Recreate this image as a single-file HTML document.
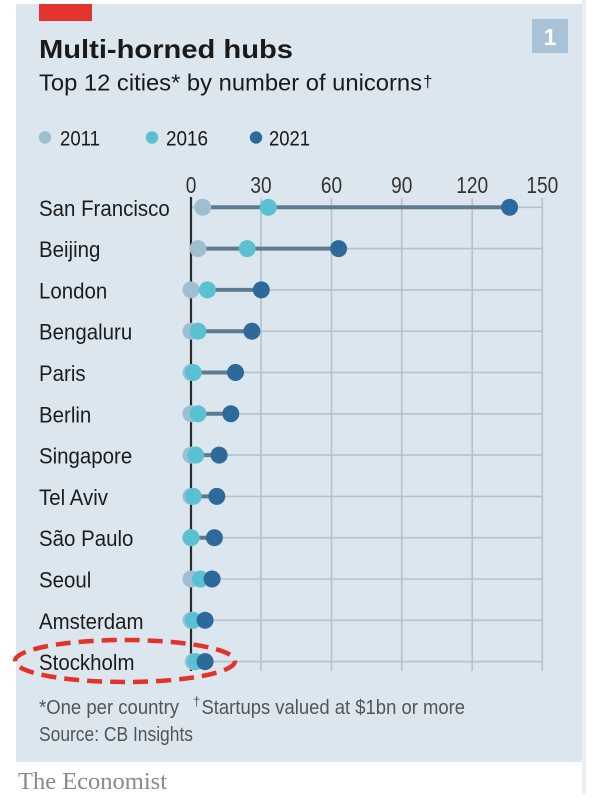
<!DOCTYPE html>
<html>
<head>
<meta charset="utf-8">
<style>
  html, body { margin: 0; padding: 0; background: #ffffff; }
  svg { display: block; }
  text { font-family: "Liberation Sans", sans-serif; }
</style>
</head>
<body>
<svg width="600" height="800" viewBox="0 0 600 800" xmlns="http://www.w3.org/2000/svg">
  <!-- page background -->
  <rect x="0" y="0" width="600" height="800" fill="#ffffff"/>
  <rect x="582" y="0" width="4" height="795" fill="#efefef"/>
  <!-- panel -->
  <rect x="16" y="4" width="566" height="758" fill="#dbe6ee"/>
  <!-- red bar -->
  <rect x="39" y="4" width="53" height="17" fill="#e3352d"/>
  <!-- number box -->
  <rect x="532" y="19" width="36" height="34" fill="#a8c3d5"/>
  <text x="550" y="45" text-anchor="middle" font-size="23" font-weight="bold" fill="#ffffff">1</text>

  <!-- title -->
  <text x="39" y="58" font-size="26" font-weight="bold" fill="#1a1a1a" textLength="254" lengthAdjust="spacingAndGlyphs">Multi-horned hubs</text>
  <text x="39" y="90.5" font-size="23" fill="#1a1a1a" textLength="383" lengthAdjust="spacingAndGlyphs">Top 12 cities* by number of unicorns</text>
  <text x="423" y="87" font-size="17" fill="#1a1a1a">†</text>

  <!-- legend -->
  <circle cx="45" cy="137.5" r="6.2" fill="#a0bed1"/>
  <text x="60" y="145.5" font-size="21" fill="#1a1a1a" textLength="40" lengthAdjust="spacingAndGlyphs">2011</text>
  <circle cx="152" cy="137.5" r="6.2" fill="#5ac1d3"/>
  <text x="166" y="145.5" font-size="21" fill="#1a1a1a" textLength="42" lengthAdjust="spacingAndGlyphs">2016</text>
  <circle cx="256" cy="137.5" r="6.2" fill="#2d6a9b"/>
  <text x="269" y="145.5" font-size="21" fill="#1a1a1a" textLength="41" lengthAdjust="spacingAndGlyphs">2021</text>

  <!-- tick labels -->
  <g font-size="23" fill="#333333" text-anchor="middle">
    <text transform="translate(191,193) scale(0.83,1)">0</text>
    <text transform="translate(261,193) scale(0.83,1)">30</text>
    <text transform="translate(331.5,193) scale(0.83,1)">60</text>
    <text transform="translate(401.7,193) scale(0.83,1)">90</text>
    <text transform="translate(472.2,193) scale(0.83,1)">120</text>
    <text transform="translate(542.3,193) scale(0.83,1)">150</text>
  </g>

  <!-- vertical gridlines -->
  <g stroke="#b5c2cb" stroke-width="1.6">
    <line x1="261" y1="198" x2="261" y2="671"/>
    <line x1="331.5" y1="198" x2="331.5" y2="671"/>
    <line x1="401.7" y1="198" x2="401.7" y2="671"/>
    <line x1="472.2" y1="198" x2="472.2" y2="671"/>
    <line x1="542.3" y1="198" x2="542.3" y2="671"/>
  </g>
  <!-- horizontal gridlines -->
  <g stroke="#b5c2cb" stroke-width="1.6">
    <line x1="191" y1="207.3" x2="542.3" y2="207.3"/>
    <line x1="191" y1="248.6" x2="542.3" y2="248.6"/>
    <line x1="191" y1="289.9" x2="542.3" y2="289.9"/>
    <line x1="191" y1="331.2" x2="542.3" y2="331.2"/>
    <line x1="191" y1="372.5" x2="542.3" y2="372.5"/>
    <line x1="191" y1="413.8" x2="542.3" y2="413.8"/>
    <line x1="191" y1="455.1" x2="542.3" y2="455.1"/>
    <line x1="191" y1="496.4" x2="542.3" y2="496.4"/>
    <line x1="191" y1="537.7" x2="542.3" y2="537.7"/>
    <line x1="191" y1="579.0" x2="542.3" y2="579.0"/>
    <line x1="191" y1="620.3" x2="542.3" y2="620.3"/>
    <line x1="191" y1="661.6" x2="542.3" y2="661.6"/>
  </g>
  <!-- zero axis -->
  <line x1="191" y1="197" x2="191" y2="671" stroke="#2b2b2b" stroke-width="2.2"/>

  <!-- row labels -->
  <g font-size="22" fill="#1d1d1d">
    <text transform="translate(39,216) scale(0.93,1)">San Francisco</text>
    <text transform="translate(39,257.1) scale(0.93,1)">Beijing</text>
    <text transform="translate(39,298.4) scale(0.93,1)">London</text>
    <text transform="translate(39,339.7) scale(0.93,1)">Bengaluru</text>
    <text transform="translate(39,381) scale(0.93,1)">Paris</text>
    <text transform="translate(39,422.3) scale(0.93,1)">Berlin</text>
    <text transform="translate(39,463.6) scale(0.93,1)">Singapore</text>
    <text transform="translate(39,504.9) scale(0.93,1)">Tel Aviv</text>
    <text transform="translate(39,546.2) scale(0.93,1)">São Paulo</text>
    <text transform="translate(39,587.5) scale(0.93,1)">Seoul</text>
    <text transform="translate(39,628.8) scale(0.93,1)">Amsterdam</text>
    <text transform="translate(39,670.1) scale(0.93,1)">Stockholm</text>
  </g>

  <!-- connecting lines (min to max) -->
  <g stroke="#5f7c8e" stroke-width="4">
    <line x1="202.7" y1="207.3" x2="509.6" y2="207.3"/>
    <line x1="198.0" y1="248.6" x2="338.6" y2="248.6"/>
    <line x1="191" y1="289.9" x2="261.3" y2="289.9"/>
    <line x1="191" y1="331.2" x2="251.9" y2="331.2"/>
    <line x1="191" y1="372.5" x2="235.5" y2="372.5"/>
    <line x1="191" y1="413.8" x2="230.8" y2="413.8"/>
    <line x1="191" y1="455.1" x2="219.1" y2="455.1"/>
    <line x1="191" y1="496.4" x2="216.8" y2="496.4"/>
    <line x1="191" y1="537.7" x2="214.4" y2="537.7"/>
    <line x1="191" y1="579.0" x2="212.1" y2="579.0"/>
    <line x1="191" y1="620.3" x2="205.1" y2="620.3"/>
    <line x1="193.3" y1="661.6" x2="205.1" y2="661.6"/>
  </g>

  <!-- 2011 dots -->
  <g fill="#a0bed1">
    <circle cx="202.7" cy="207.3" r="8.5"/>
    <circle cx="198.0" cy="248.6" r="8.5"/>
    <circle cx="191" cy="289.9" r="8.5"/>
    <circle cx="191" cy="331.2" r="8.5"/>
    <circle cx="191" cy="372.5" r="8.5"/>
    <circle cx="191" cy="413.8" r="8.5"/>
    <circle cx="191" cy="455.1" r="8.5"/>
    <circle cx="191" cy="496.4" r="8.5"/>
    <circle cx="191" cy="537.7" r="8.5"/>
    <circle cx="191" cy="579.0" r="8.5"/>
    <circle cx="191" cy="620.3" r="8.5"/>
    <circle cx="193.3" cy="661.6" r="8.5"/>
  </g>
  <!-- 2016 dots -->
  <g fill="#5ac1d3">
    <circle cx="268.3" cy="207.3" r="8.5"/>
    <circle cx="247.2" cy="248.6" r="8.5"/>
    <circle cx="207.4" cy="289.9" r="8.5"/>
    <circle cx="198.0" cy="331.2" r="8.5"/>
    <circle cx="193.3" cy="372.5" r="8.5"/>
    <circle cx="198.0" cy="413.8" r="8.5"/>
    <circle cx="195.7" cy="455.1" r="8.5"/>
    <circle cx="193.3" cy="496.4" r="8.5"/>
    <circle cx="191" cy="537.7" r="8.5"/>
    <circle cx="200.4" cy="579.0" r="8.5"/>
    <circle cx="193.3" cy="620.3" r="8.5"/>
    <circle cx="195.7" cy="661.6" r="8.5"/>
  </g>
  <!-- 2021 dots -->
  <g fill="#2d6a9b">
    <circle cx="509.6" cy="207.3" r="8.5"/>
    <circle cx="338.6" cy="248.6" r="8.5"/>
    <circle cx="261.3" cy="289.9" r="8.5"/>
    <circle cx="251.9" cy="331.2" r="8.5"/>
    <circle cx="235.5" cy="372.5" r="8.5"/>
    <circle cx="230.8" cy="413.8" r="8.5"/>
    <circle cx="219.1" cy="455.1" r="8.5"/>
    <circle cx="216.8" cy="496.4" r="8.5"/>
    <circle cx="214.4" cy="537.7" r="8.5"/>
    <circle cx="212.1" cy="579.0" r="8.5"/>
    <circle cx="205.1" cy="620.3" r="8.5"/>
    <circle cx="205.1" cy="661.6" r="8.5"/>
  </g>

  <!-- red dashed ellipse -->
  <ellipse cx="125" cy="661" rx="110" ry="21" fill="none" stroke="#e3322a" stroke-width="4.5" stroke-dasharray="15 8"/>

  <!-- footnotes -->
  <g fill="#555555">
    <text x="39" y="714" font-size="20" textLength="140" lengthAdjust="spacingAndGlyphs">*One per country</text>
    <text x="193" y="706" font-size="13">†</text>
    <text x="201.5" y="714" font-size="20" textLength="263.5" lengthAdjust="spacingAndGlyphs">Startups valued at $1bn or more</text>
    <text x="39" y="741" font-size="20" textLength="154" lengthAdjust="spacingAndGlyphs">Source: CB Insights</text>
  </g>

  <!-- brand -->
  <text x="18" y="789" style="font-family: 'Liberation Serif', serif;" font-size="24" fill="#8a8a8a" textLength="149" lengthAdjust="spacingAndGlyphs">The Economist</text>
</svg>
</body>
</html>
